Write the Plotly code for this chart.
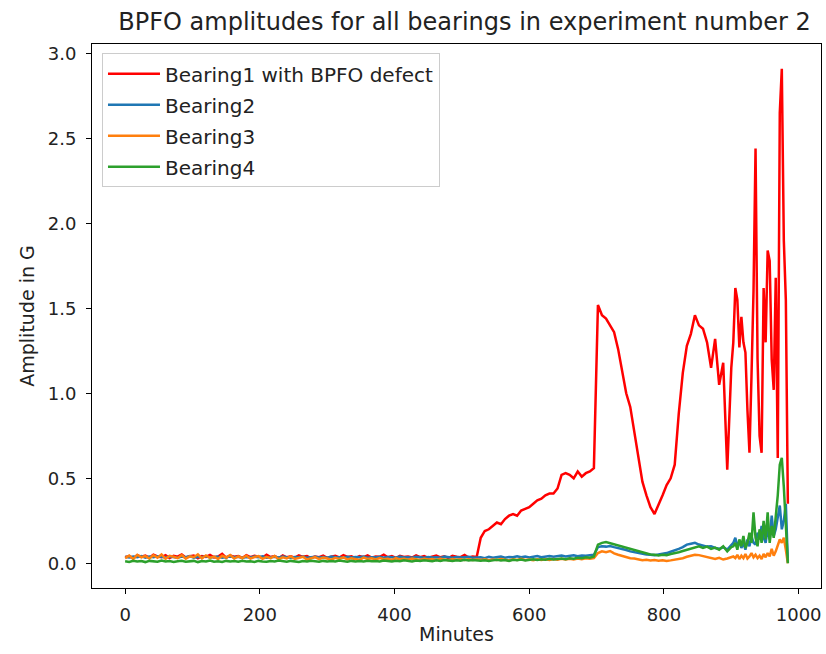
import plotly.graph_objects as go

# ---- sample times (minutes) ----
minutes = list(range(0, 528, 6)) + list(range(528, 906, 6)) + list(range(903, 987, 3))

# ---- series values (G) ----
bearing1 = [
    0.035, 0.042, 0.030, 0.048, 0.038, 0.045, 0.033, 0.050, 0.040, 0.036,
    0.047, 0.031, 0.044, 0.039, 0.052, 0.034, 0.041, 0.046, 0.030, 0.043,
    0.037, 0.049, 0.035, 0.040, 0.055, 0.033, 0.045, 0.038, 0.042, 0.031,
    0.048, 0.036, 0.044, 0.039, 0.034, 0.050, 0.037, 0.042, 0.030, 0.046,
    0.035, 0.041, 0.033, 0.047, 0.038, 0.043, 0.031, 0.040, 0.036, 0.045,
    0.032, 0.039, 0.044, 0.034, 0.048, 0.037, 0.041, 0.030, 0.043, 0.036,
    0.046, 0.033, 0.040, 0.038, 0.051, 0.035, 0.042, 0.031, 0.044, 0.037,
    0.040, 0.034, 0.047, 0.036, 0.043, 0.032, 0.039, 0.045, 0.035, 0.041,
    0.030, 0.044, 0.038, 0.036, 0.049, 0.034, 0.040, 0.037,
    0.15, 0.19, 0.20, 0.22, 0.24, 0.23, 0.26, 0.28, 0.29, 0.28,
    0.31, 0.32, 0.33, 0.35, 0.37, 0.38, 0.40, 0.41, 0.41, 0.44,
    0.52, 0.53, 0.52, 0.50, 0.54, 0.51, 0.53, 0.54, 0.56,
    1.52, 1.46, 1.44, 1.40, 1.36, 1.26, 1.12, 1.00, 0.92, 0.78,
    0.62, 0.48, 0.40, 0.33, 0.29, 0.34, 0.40, 0.46, 0.50, 0.58,
    0.88, 1.12, 1.28, 1.35, 1.46, 1.40, 1.38, 1.30, 1.15, 1.32,
    1.05, 1.18, 0.55, 1.15,
    1.30, 1.62, 1.55, 1.27, 1.45, 1.30, 1.24, 0.90, 0.65, 1.10,
    1.60, 2.44, 1.20, 0.75, 0.65, 1.62, 1.30, 1.84, 1.78, 1.20,
    1.02, 1.68, 0.62, 2.65, 2.91, 1.90, 1.55, 0.35,
]

bearing2 = [
    0.038, 0.034, 0.040, 0.036, 0.042, 0.033, 0.039, 0.035, 0.041, 0.037,
    0.034, 0.040, 0.036, 0.032, 0.039, 0.035, 0.042, 0.033, 0.038, 0.036,
    0.041, 0.034, 0.037, 0.039, 0.033, 0.036, 0.040, 0.035, 0.038, 0.032,
    0.037, 0.034, 0.039, 0.036, 0.041, 0.033, 0.035, 0.038, 0.034, 0.040,
    0.036, 0.033, 0.037, 0.035, 0.039, 0.032, 0.036, 0.038, 0.034, 0.037,
    0.033, 0.039, 0.035, 0.036, 0.032, 0.038, 0.034, 0.037, 0.035, 0.040,
    0.033, 0.036, 0.034, 0.038, 0.032, 0.037, 0.035, 0.033, 0.039, 0.034,
    0.036, 0.032, 0.038, 0.035, 0.033, 0.037, 0.034, 0.036, 0.032, 0.039,
    0.035, 0.033, 0.037, 0.034, 0.036, 0.038, 0.033, 0.035,
    0.035, 0.030, 0.038, 0.032, 0.036, 0.040, 0.033, 0.037, 0.035, 0.041,
    0.036, 0.039, 0.034, 0.038, 0.042, 0.036, 0.040, 0.043, 0.038, 0.041,
    0.045, 0.040, 0.043, 0.047, 0.042, 0.046, 0.044, 0.048, 0.050,
    0.095, 0.100, 0.098, 0.102, 0.095, 0.090, 0.085, 0.078, 0.070, 0.065,
    0.060, 0.056, 0.052, 0.050, 0.048, 0.052, 0.055, 0.060, 0.068, 0.075,
    0.085, 0.095, 0.110, 0.115, 0.120, 0.110, 0.105, 0.098, 0.100, 0.090,
    0.085, 0.095, 0.080, 0.110,
    0.12, 0.15, 0.10, 0.13, 0.09, 0.12, 0.08, 0.14, 0.10, 0.16,
    0.12, 0.11, 0.18, 0.14, 0.22, 0.15, 0.12, 0.20, 0.14, 0.28,
    0.16, 0.20, 0.28, 0.34, 0.20, 0.25, 0.35, 0.01,
]

bearing3 = [
    0.030, 0.045, 0.025, 0.050, 0.035, 0.042, 0.028, 0.047, 0.033, 0.052,
    0.026, 0.044, 0.038, 0.030, 0.048, 0.027, 0.041, 0.036, 0.053, 0.029,
    0.046, 0.032, 0.039, 0.025, 0.044, 0.034, 0.049, 0.028, 0.040, 0.031,
    0.045, 0.027, 0.037, 0.042, 0.026, 0.038, 0.030, 0.043, 0.024, 0.035,
    0.029, 0.040, 0.025, 0.033, 0.038, 0.022, 0.031, 0.036, 0.024, 0.034,
    0.028, 0.021, 0.032, 0.026, 0.035, 0.023, 0.030, 0.027, 0.020, 0.033,
    0.025, 0.029, 0.022, 0.031, 0.024, 0.027, 0.020, 0.030, 0.023, 0.026,
    0.021, 0.028, 0.024, 0.019, 0.027, 0.022, 0.025, 0.020, 0.026, 0.023,
    0.018, 0.025, 0.021, 0.024, 0.019, 0.023, 0.020, 0.022,
    0.020, 0.024, 0.018, 0.022, 0.019, 0.025, 0.021, 0.017, 0.023, 0.020,
    0.026, 0.019, 0.022, 0.018, 0.024, 0.020, 0.023, 0.019, 0.025, 0.021,
    0.026, 0.022, 0.027, 0.023, 0.028, 0.024, 0.029, 0.026, 0.030,
    0.060, 0.070, 0.065, 0.072, 0.058, 0.050, 0.042, 0.035, 0.030, 0.028,
    0.022, 0.018, 0.020, 0.016, 0.019, 0.015, 0.018, 0.014, 0.017, 0.020,
    0.025, 0.030, 0.038, 0.045, 0.050, 0.048, 0.042, 0.035, 0.030, 0.025,
    0.032, 0.022, 0.028, 0.035,
    0.040, 0.030, 0.050, 0.025, 0.045, 0.030, 0.055, 0.028, 0.040, 0.060,
    0.035, 0.050, 0.030, 0.045, 0.025, 0.055, 0.035, 0.060, 0.040, 0.085,
    0.045, 0.070, 0.100, 0.140, 0.120, 0.150, 0.080, 0.000,
]

bearing4 = [
    0.012, 0.008, 0.015, 0.010, 0.013, 0.007, 0.014, 0.011, 0.009, 0.016,
    0.010, 0.013, 0.008, 0.012, 0.015, 0.009, 0.011, 0.014, 0.007, 0.013,
    0.010, 0.016, 0.009, 0.012, 0.008, 0.014, 0.011, 0.013, 0.009, 0.015,
    0.010, 0.012, 0.008, 0.014, 0.011, 0.009, 0.013, 0.010, 0.016, 0.012,
    0.009, 0.014, 0.011, 0.008, 0.013, 0.010, 0.015, 0.012, 0.009, 0.014,
    0.011, 0.013, 0.010, 0.016, 0.012, 0.009, 0.014, 0.011, 0.013, 0.010,
    0.015, 0.012, 0.014, 0.011, 0.016, 0.013, 0.010, 0.015, 0.012, 0.017,
    0.014, 0.011, 0.016, 0.013, 0.018, 0.015, 0.012, 0.017, 0.014, 0.019,
    0.016, 0.013, 0.018, 0.015, 0.020, 0.017, 0.019, 0.016,
    0.015, 0.018, 0.013, 0.017, 0.020, 0.016, 0.019, 0.014, 0.021, 0.018,
    0.022, 0.017, 0.020, 0.024, 0.019, 0.023, 0.021, 0.026, 0.022, 0.025,
    0.028, 0.024, 0.030, 0.027, 0.032, 0.029, 0.035, 0.033, 0.040,
    0.110, 0.120, 0.125, 0.118, 0.115, 0.108, 0.100, 0.092, 0.085, 0.078,
    0.070, 0.064, 0.058, 0.052, 0.050, 0.046, 0.050, 0.048, 0.055, 0.058,
    0.065, 0.072, 0.080, 0.088, 0.095, 0.100, 0.090, 0.098, 0.085, 0.092,
    0.080, 0.100, 0.070, 0.095,
    0.10, 0.12, 0.08, 0.14, 0.10, 0.16, 0.09, 0.12, 0.18, 0.12,
    0.30, 0.15, 0.10, 0.20, 0.12, 0.25, 0.14, 0.30, 0.12, 0.22,
    0.15, 0.28, 0.40, 0.58, 0.62, 0.45, 0.20, 0.00,
]

names = ["Bearing1 with BPFO defect", "Bearing2", "Bearing3", "Bearing4"]
colors = ["#ff0000", "#1f77b4", "#ff7f0e", "#2ca02c"]
series = [bearing1, bearing2, bearing3, bearing4]
for s in series:
    assert len(s) == len(minutes), (len(s), len(minutes))

x_ticks = [0, 200, 400, 600, 800, 1000]
y_ticks = [0.0, 0.5, 1.0, 1.5, 2.0, 2.5, 3.0]

FONT = "DejaVu Sans"
TXT = "#222222"

fig = go.Figure()
for i, (nm, col, s) in enumerate(zip(names, colors, series)):
    fig.add_trace(go.Scatter(
        x=minutes, y=s, mode="lines", name=nm,
        line=dict(color=col, width=2.5),
        legendgroup="g%d" % i,
    ))

ymax = max(max(s) for s in series)
ymin = min(min(s) for s in series)
xmin, xmax = min(minutes), max(minutes)
xpad = (xmax - xmin) * 0.05
ypad = (ymax - ymin) * 0.05

axis_common = dict(
    showline=True, linecolor="black", linewidth=1, mirror=True,
    ticks="outside", ticklen=5, tickwidth=1, tickcolor="black",
    showgrid=False, zeroline=False,
    tickfont=dict(family=FONT, size=18, color=TXT),
)

fig.update_layout(
    width=826, height=654,
    margin=dict(l=92, r=5, t=44, b=66),
    paper_bgcolor="white", plot_bgcolor="white",
    font=dict(family=FONT, size=18, color=TXT),
    title=dict(
        text="BPFO amplitudes for all bearings in experiment number 2",
        x=0.511, xref="paper", y=1 - 22 / 654, yref="container",
        xanchor="center", yanchor="middle",
        font=dict(family=FONT, size=24, color=TXT),
    ),
    xaxis=dict(
        range=[xmin - xpad, xmax + xpad],
        tickvals=x_ticks, ticktext=[str(v) for v in x_ticks],
        ticklabelstandoff=5,
        title=dict(text="Minutes", font=dict(family=FONT, size=19, color=TXT), standoff=4),
        **axis_common,
    ),
    yaxis=dict(
        range=[ymin - ypad, ymax + ypad],
        tickvals=y_ticks, ticktext=["%.1f" % v for v in y_ticks],
        ticklabelstandoff=6,
        title=dict(text="Amplitude in G", font=dict(family=FONT, size=19, color=TXT), standoff=8),
        **axis_common,
    ),
    legend=dict(
        x=0.0137, y=0.983, xanchor="left", yanchor="top",
        bgcolor="rgba(255,255,255,0.8)", bordercolor="#cccccc", borderwidth=1,
        font=dict(family=FONT, size=20, color=TXT),
        tracegroupgap=2, itemwidth=52,
    ),
    showlegend=True,
)

fig.write_html("out.html")
